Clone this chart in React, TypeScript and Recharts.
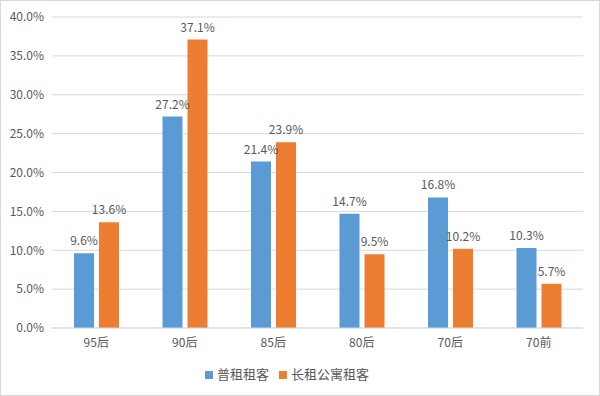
import { Bar, BarChart, CartesianGrid, LabelList, Legend, XAxis, YAxis } from "recharts";

const categories = ["95后", "90后", "85后", "80后", "70后", "70前"];
const regularRenters = [9.6, 27.2, 21.4, 14.7, 16.8, 10.3];
const apartmentRenters = [13.6, 37.1, 23.9, 9.5, 10.2, 5.7];
const yTicks = [0, 5, 10, 15, 20, 25, 30, 35, 40];

const data = categories.map((name, i) => ({
  name,
  regular: regularRenters[i],
  apartment: apartmentRenters[i],
}));

const font = '"Noto Sans CJK SC", "Microsoft YaHei", sans-serif';
const textColor = "#595959";
const pct = (v: number) => `${v.toFixed(1)}%`;

export default function App() {
  return (
    <div
      style={{
        position: "absolute",
        top: 0,
        left: 0,
        width: 598,
        height: 394,
        border: "1px solid #d9d9d9",
        background: "#fff",
        fontFamily: font,
      }}
    >
      <BarChart
        width={598}
        height={394}
        data={data}
        margin={{ top: 16, right: 16, bottom: 0, left: 0 }}
        barSize={20}
        barGap={5}
      >
        <CartesianGrid vertical={false} stroke="#d9d9d9" />
        <XAxis
          dataKey="name"
          tickLine={false}
          axisLine={{ stroke: "#d9d9d9" }}
          tick={{ fill: textColor, fontSize: 12, fontFamily: font }}
          tickMargin={4}
          height={36}
        />
        <YAxis
          width={51}
          domain={[0, 40]}
          ticks={yTicks}
          tickFormatter={pct}
          axisLine={false}
          tickLine={false}
          tickSize={0}
          tickMargin={8}
          tick={{ fill: textColor, fontSize: 12, fontFamily: font }}
        />
        <Legend
          verticalAlign="bottom"
          iconType="square"
          iconSize={8}
          wrapperStyle={{ fontSize: 13, color: textColor, paddingBottom: 12 }}
          formatter={(value) => <span style={{ color: textColor }}>{value}</span>}
        />
        <Bar dataKey="regular" name="普租租客" fill="#5B9BD5" isAnimationActive={false}>
          <LabelList dataKey="regular" position="top" offset={8} formatter={(v: any) => pct(Number(v))} fill={textColor} fontSize={12} fontFamily={font} />
        </Bar>
        <Bar dataKey="apartment" name="长租公寓租客" fill="#ED7D31" isAnimationActive={false}>
          <LabelList dataKey="apartment" position="top" offset={8} formatter={(v: any) => pct(Number(v))} fill={textColor} fontSize={12} fontFamily={font} />
        </Bar>
      </BarChart>
    </div>
  );
}
